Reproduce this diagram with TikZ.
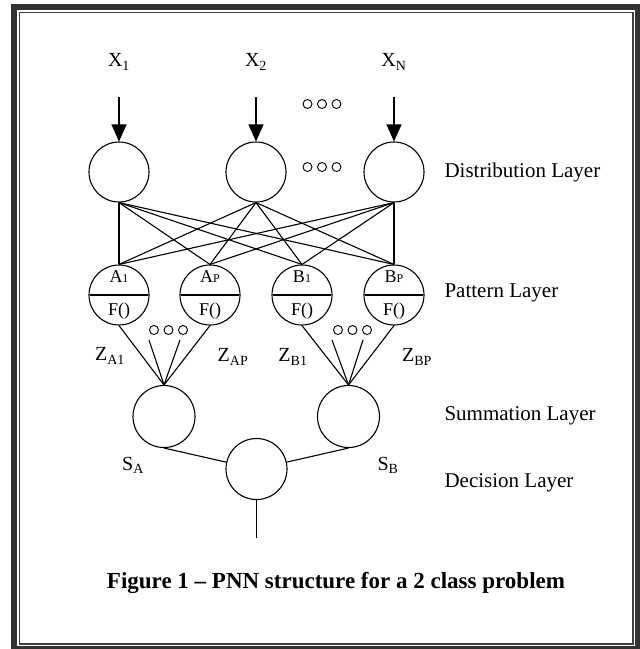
\documentclass[tikz,border=0pt]{standalone}
\usepackage{fontspec}
\setmainfont{Liberation Serif}
\usetikzlibrary{shapes.multipart, arrows.meta}

\newcommand{\pattop}[2]{\raisebox{8.5pt}[0pt][0pt]{#1{\fontsize{12}{12}\selectfont #2}}}
\newcommand{\patbot}{\raisebox{-16.5pt}[0pt][0pt]{F()}}

\begin{document}
\begin{tikzpicture}[x=1pt, y=-1pt,
  every node/.style={font=\fontsize{20}{24}\selectfont},
  neuron/.style={circle, draw, line width=1.1pt, minimum size=60pt, inner sep=0pt},
  patt/.style={circle split, draw, line width=1.1pt, minimum size=60pt, inner xsep=0pt, inner ysep=3pt, font=\fontsize{18}{20}\selectfont},
  link/.style={line width=1.1pt},
  feed/.style={line width=1.1pt, -{Triangle[length=17pt, width=15pt]}},
  ring/.style={line width=0.9pt},
  layer/.style={anchor=west, font=\fontsize{21}{25}\selectfont},
]
  \useasboundingbox (0,0) rectangle (640,649);
  % frame
  \draw[line width=6pt, black!80] (14.3,6.5) rectangle (638,648.5);
  \draw[line width=1.3pt, black!75] (19.8,12.8) rectangle (633,644);

  % inputs
  \node (x1) at (119,62) {X\textsubscript{1}};
  \node (x2) at (256,62) {X\textsubscript{2}};
  \node (xn) at (394,62) {X\textsubscript{N}};
  \coordinate (in1) at (119,97);
  \coordinate (in2) at (256,97);
  \coordinate (inn) at (394,97);

  % distribution layer
  \node[neuron] (d1) at (119,172) {};
  \node[neuron] (d2) at (256,172) {};
  \node[neuron] (dn) at (394,172) {};
  \draw[feed] (in1) -- (d1);
  \draw[feed] (in2) -- (d2);
  \draw[feed] (inn) -- (dn);

  % pattern layer
  \node[patt] (pa1) at (119,295) {\pattop{A}{1}\nodepart{lower}\patbot};
  \node[patt] (pap) at (210,295) {\pattop{A}{P}\nodepart{lower}\patbot};
  \node[patt] (pb1) at (302,295) {\pattop{B}{1}\nodepart{lower}\patbot};
  \node[patt] (pbp) at (394,295) {\pattop{B}{P}\nodepart{lower}\patbot};
  \foreach \d in {d1,d2,dn}
    \foreach \p in {pa1,pap,pb1,pbp}
      \draw[link] (\d.south) -- (\p.north);

  % summation layer
  \node[neuron, minimum size=62pt] (sa) at (164,416.5) {};
  \node[neuron, minimum size=62pt] (sb) at (348.5,416.5) {};
  \coordinate (za2) at (149,340);
  \coordinate (za3) at (180,340);
  \coordinate (zb2) at (332,340);
  \coordinate (zb3) at (363,340);
  \foreach \s in {pa1.south,za2,za3,pap.south}
    \draw[link] (\s) -- (sa.north);
  \foreach \s in {pb1.south,zb2,zb3,pbp.south}
    \draw[link] (\s) -- (sb.north);

  % decision layer
  \node[neuron, minimum size=61pt] (dec) at (256.5,469) {};
  \coordinate (out) at (256.5,538);
  \draw[link] (sa.south) -- (dec);
  \draw[link] (sb.south) -- (dec);
  \draw[link] (dec) -- (out);

  % dots
  \foreach \cx/\cy in {322/104, 322/167, 168.5/330, 352.5/330}
    \foreach \k in {-1,0,1}
      \draw[ring] (\cx+14.5*\k,\cy) circle (4.5);

  % labels
  \node (za1) at (110,356) {Z\textsubscript{A1}};
  \node (zap) at (233,357) {Z\textsubscript{AP}};
  \node (zb1) at (293,357) {Z\textsubscript{B1}};
  \node (zbp) at (417,357) {Z\textsubscript{BP}};
  \node (sal) at (133,465) {S\textsubscript{A}};
  \node (sbl) at (388,465) {S\textsubscript{B}};

  \node[layer] (ldist) at (441,172) {Distribution Layer};
  \node[layer] (lpatt) at (441,293) {Pattern Layer};
  \node[layer] (lsum) at (441,416) {Summation Layer};
  \node[layer] (ldec) at (441,483) {Decision Layer};

  \node[font=\fontsize{23}{27}\selectfont\bfseries] (caption) at (336,583) {Figure 1 -- PNN structure for a 2 class problem};
\end{tikzpicture}
\end{document}
